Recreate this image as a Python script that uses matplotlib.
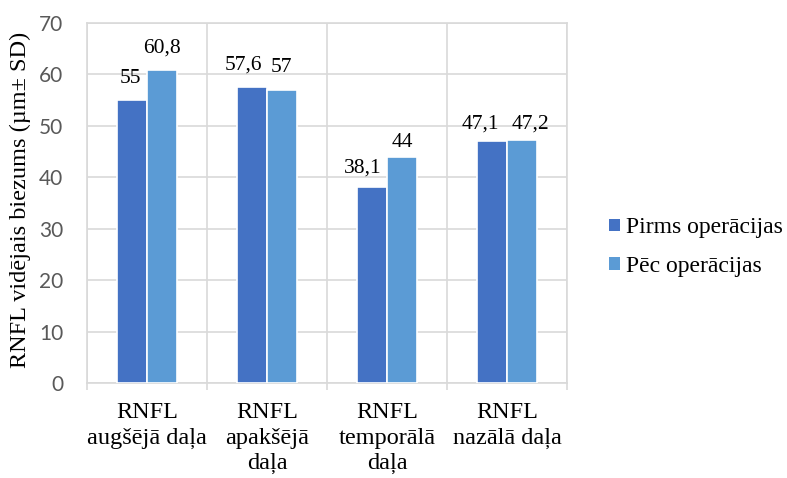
import numpy as np
import matplotlib.pyplot as plt
from matplotlib.patches import Patch

# RNFL thickness by sector, before and after surgery
categories = ["RNFL\naugšējā daļa", "RNFL\napakšējā\ndaļa", "RNFL\ntemporālā\ndaļa", "RNFL\nnazālā daļa"]
before = [55, 57.6, 38.1, 47.1]
after = [60.8, 57, 44, 47.2]
series_names = ["Pirms operācijas", "Pēc operācijas"]
y_ticks = [0, 10, 20, 30, 40, 50, 60, 70]

c_before = "#4472C4"
c_after = "#5B9BD5"
grid_c = "#D9D9D9"
serif = "Liberation Serif"

# hand-placed value labels: (dx, dy) nudges in px
nudge_before = [(-2, 0), (-9, 0), (-9, -3), (-12, -5)]
nudge_after = [(0, 0), (-1, 0), (0, -8), (8, -6)]

fig = plt.figure(figsize=(7.87, 4.78), dpi=100)
ax = fig.add_axes([87 / 787, 95 / 478, 480 / 787, 360 / 478])

x = np.arange(len(categories))
w = 0.25
b1 = ax.bar(x - w / 2, before, w, color=c_before, edgecolor="white", linewidth=1.2, zorder=3)
b2 = ax.bar(x + w / 2, after, w, color=c_after, edgecolor="white", linewidth=1.2, zorder=3)

def fmt(v):
    s = f"{v:g}"
    return s.replace(".", ",")

for bars, vals, nud in [(b1, before, nudge_before), (b2, after, nudge_after)]:
    for rect, v, (dx, dy) in zip(bars, vals, nud):
        ax.annotate(fmt(v), (rect.get_x() + rect.get_width() / 2, v),
                    xytext=(dx * 0.72, 9 + dy * 0.72), textcoords="offset points",
                    ha="center", va="bottom", fontsize=15.5, family=serif, color="black")

ax.set_xlim(-0.5, len(categories) - 0.5)
ax.set_ylim(0, 70)
ax.set_yticks(y_ticks)
ax.tick_params(axis="y", length=0, pad=17, labelsize=15, labelcolor="#595959")
for lab in ax.get_yticklabels():
    lab.set_family("Lato")

# boundaries carry the tick marks and vertical grid, labels sit at centres
ax.set_xticks(np.arange(len(categories) + 1) - 0.5)
ax.set_xticklabels([])
ax.set_xticks(x, minor=True)
ax.set_xticklabels(categories, minor=True, family=serif, fontsize=17.5, linespacing=1.27)
ax.tick_params(axis="x", which="major", length=5, color=grid_c, width=1.2)
ax.tick_params(axis="x", which="minor", length=0, pad=14)

ax.grid(True, which="major", color=grid_c, linewidth=1.2, zorder=0)
ax.set_axisbelow(True)
for s in ax.spines.values():
    s.set_color(grid_c)
    s.set_linewidth(1.2)

ax.set_ylabel("RNFL vidējais biezums (µm± SD)", family=serif, fontsize=17.5)
ax.yaxis.set_label_coords(-0.117, 0.51)

handles = [Patch(facecolor=c_before), Patch(facecolor=c_after)]
fig.legend(handles, series_names, loc="center left", bbox_to_anchor=(609 / 787, 0.483),
           frameon=False, borderpad=0, borderaxespad=0, handlelength=0.45, handleheight=0.45,
           handletextpad=0.25, labelspacing=0.75, prop={"family": serif, "size": 17})

fig.savefig("out.png", dpi=100)
